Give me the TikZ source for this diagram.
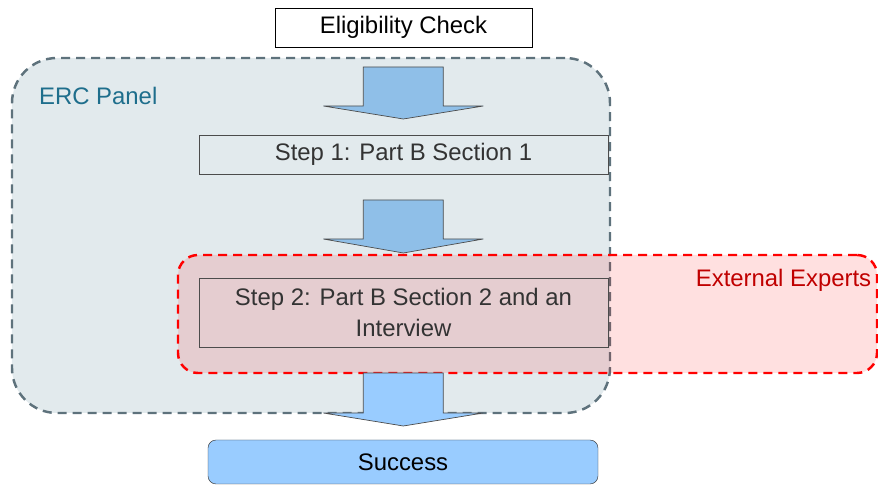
\documentclass[tikz,border=0pt]{standalone}
\usepackage{fontspec}
\setmainfont{Liberation Sans}
\usepackage{tikz}
\usetikzlibrary{shapes,arrows,positioning}
\usepackage{xcolor}
\definecolor{panelfill}{RGB}{226,234,237}
\definecolor{paneldash}{RGB}{94,114,124}
\definecolor{panelteal}{RGB}{30,110,140}
\definecolor{arrowblue}{RGB}{143,191,232}
\definecolor{successblue}{RGB}{153,204,255}
\definecolor{expertred}{RGB}{192,0,0}

\begin{document}
\begin{tikzpicture}
      \tikzstyle{every node} = [font=\fontsize{20.4}{24}\selectfont]
      \tikzstyle{panel} = [rectangle, rounded corners=1.35cm, draw=paneldash, line width=2.1pt, dash pattern=on 0.27cm off 0.18cm, fill=panelfill, minimum width=17.94cm, minimum height=10.65cm]
      \tikzstyle{experts} = [rectangle, rounded corners=0.6cm, draw=red, line width=2.1pt, dash pattern=on 0.27cm off 0.18cm, fill=red, fill opacity=0.12, draw opacity=1, minimum width=20.97cm, minimum height=3.54cm]
      \tikzstyle{stepbox} = [rectangle, draw=black!70, text=black!80, minimum width=12.27cm, minimum height=1.17cm, align=center]
      \tikzstyle{bigarrow} = [draw=black!70, line width=0.6pt]

      \clip (0,0) rectangle (26.34,14.55);

      \node[panel] (erc) at (9.33,7.485) {};
      \node[anchor=west, text=panelteal] (ercl) at (1.05,11.67) {ERC Panel};

      \draw[bigarrow, fill=arrowblue] (10.9,12.54) -- (13.3,12.54) -- (13.3,11.37) -- (14.5,11.37) -- (12.1,10.98) -- (9.7,11.37) -- (10.9,11.37) -- cycle;
      \draw[bigarrow, fill=arrowblue] (10.9,8.55) -- (13.3,8.55) -- (13.3,7.38) -- (14.5,7.38) -- (12.1,6.96) -- (9.7,7.38) -- (10.9,7.38) -- cycle;

      \node[stepbox] (s1) at (12.105,9.915) {Step 1: Part B Section 1};

      \node[experts] (ext) at (15.825,5.13) {};
      \node[anchor=east, text=expertred] (extl) at (26.26,6.15) {External Experts};

      \node[stepbox, minimum height=2.07cm] (s2) at (12.105,5.175) {Step 2: Part B Section 2 and an\\[0.1cm]Interview};

      \draw[bigarrow, fill=successblue] (10.9,3.36) -- (13.3,3.36) -- (13.3,2.16) -- (14.5,2.16) -- (12.1,1.77) -- (9.7,2.16) -- (10.9,2.16) -- cycle;

      \node[rectangle, rounded corners=0.24cm, draw=black!80, fill=successblue, minimum width=11.7cm, minimum height=1.32cm] (ok) at (12.09,0.69) {Success};

      \node[rectangle, draw=black, fill=white, minimum width=7.71cm, minimum height=1.17cm] (elig) at (12.105,13.725) {Eligibility Check};
    \end{tikzpicture}
\end{document}
